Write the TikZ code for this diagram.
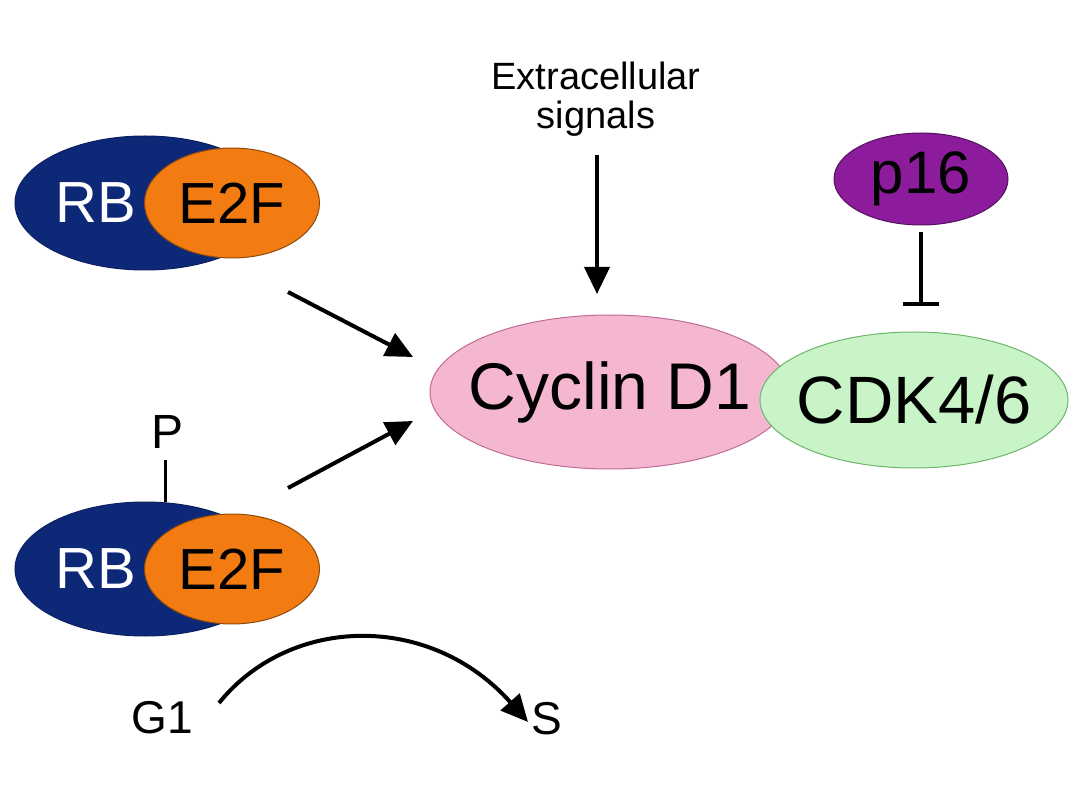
\documentclass[tikz,border=0pt]{standalone}
\usepackage{fontspec}
\setmainfont{Liberation Sans}
\usetikzlibrary{shapes.geometric,arrows.meta}
\definecolor{rbblue}{RGB}{14,40,120}
\definecolor{e2forange}{RGB}{242,124,18}
\definecolor{cycpink}{RGB}{245,182,207}
\definecolor{cycedge}{RGB}{190,110,150}
\definecolor{cdkgreen}{RGB}{200,244,200}
\definecolor{cdkedge}{RGB}{110,180,110}
\definecolor{ppurple}{RGB}{140,28,155}
\tikzset{
  blob/.style={ellipse, inner sep=0pt, line width=1pt},
  rbshape/.style={blob, fill=rbblue, draw=rbblue!80!black, minimum width=260pt, minimum height=134pt},
  e2fshape/.style={blob, fill=e2forange, draw=e2forange!60!black, minimum width=175pt, minimum height=110pt, label={[font=\fontsize{58}{60}\selectfont]center:E2F}},
  rbtext/.style={text=white, font=\fontsize{58}{60}\selectfont},
  act/.style={line width=4pt, -{Triangle[length=27pt,width=25pt]}},
  inh/.style={line width=4pt, -{Bar[width=36pt,line width=4pt]}},
  lbl/.style={font=\fontsize{46}{48}\selectfont},
}
\begin{document}
\begin{tikzpicture}[x=1pt,y=-1pt]
\useasboundingbox[fill=white] (0,0) rectangle (1080,810);
% top RB-E2F
\node[rbshape] (rb1) at (145,203) {};
\node[e2fshape] (e2f1) at (232,203) {};
\node[rbtext] (rbt1) at (96,203) {RB};
% bottom RB-E2F
\node[rbshape] (rb2) at (145,569) {};
\node[e2fshape] (e2f2) at (232,569) {};
\node[rbtext] (rbt2) at (96,569) {RB};
\node[lbl, font=\fontsize{48}{50}\selectfont] (p) at (168,432) {P};
\draw[line width=3pt] (p.south) ++(-3,8) coordinate (ptop) -- (rb2.north -| ptop);
% Cyclin D1 and CDK4/6
\node[blob, fill=cycpink, draw=cycedge, minimum width=360pt, minimum height=154pt, label={[font=\fontsize{66}{68}\selectfont]center:Cyclin D1}] (cyc) at (610,392) {};
\node[blob, fill=cdkgreen, draw=cdkedge, minimum width=308pt, minimum height=136pt, label={[font=\fontsize{67}{69}\selectfont]center:CDK4/6}] (cdk) at (914,400) {};
% p16
\node[blob, fill=ppurple, draw=ppurple!60!black, minimum width=174pt, minimum height=92pt, label={[font=\fontsize{60}{62}\selectfont]center:p16}] (p16) at (921,179) {};
\coordinate (p16a) at (921,232);
\coordinate (p16b) at (921,306);
\draw[inh] (p16a) -- (p16b);
% extracellular signals
\node[align=center, font=\fontsize{38}{39}\selectfont] (ext) at (596,99) {Extracellular\\signals};
\coordinate (exta) at (597,155);
\coordinate (extb) at (597,294);
\draw[act] (exta) -- (extb);
% arrows to cyclin
\coordinate (a1s) at (288,292);
\coordinate (a1e) at (413,357);
\coordinate (a2s) at (288,488);
\coordinate (a2e) at (413,421);
\draw[act] (a1s) -- (a1e);
\draw[act] (a2s) -- (a2e);
% G1 -> S
\node[lbl] (g1) at (162,718) {G1};
\node[lbl] (s) at (547,719) {S};
\coordinate (gs) at (219,703);
\coordinate (se) at (528,722);
\draw[act] (gs) .. controls (290,615) and (430,612) .. (se);
\end{tikzpicture}
\end{document}
